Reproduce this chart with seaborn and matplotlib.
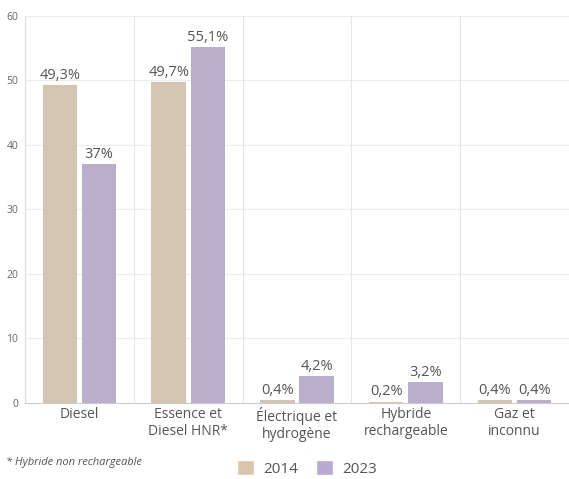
import matplotlib
matplotlib.use("Agg")
import matplotlib.pyplot as plt
from matplotlib.patches import Patch
import seaborn as sns
import pandas as pd

categories = ["Diesel", "Essence et\nDiesel HNR*", "Électrique et\nhydrogène", "Hybride\nrechargeable", "Gaz et\ninconnu"]
years = ["2014", "2023"]
values_2014 = [49.3, 49.7, 0.4, 0.2, 0.4]
values_2023 = [37.0, 55.1, 4.2, 3.2, 0.4]
labels_2014 = ["49,3%", "49,7%", "0,4%", "0,2%", "0,4%"]
labels_2023 = ["37%", "55,1%", "4,2%", "3,2%", "0,4%"]
colors = ["#d8c6ac", "#b8aad0"]

rows = []
for c, v in zip(categories, values_2014):
    rows.append({"cat": c, "year": "2014", "val": v})
for c, v in zip(categories, values_2023):
    rows.append({"cat": c, "year": "2023", "val": v})
df = pd.DataFrame(rows)

sns.set_style("white")
plt.rcParams['font.family'] = ['Open Sans', 'DejaVu Sans']

fig = plt.figure(figsize=(5.69, 4.79), dpi=100)
ax = fig.add_axes([0.044, 0.159, 0.956, 0.808])

sns.barplot(data=df, x="cat", y="val", hue="year", palette=colors, order=categories,
            hue_order=years, width=0.72, gap=0.12, ax=ax, legend=False, zorder=3,
            linewidth=0, edgecolor="none")

ax.set_xlim(-0.5, 4.5)
ax.set_ylim(0, 60)
ax.set_yticks(range(0, 61, 10))
ax.set_ylabel("")
ax.set_xlabel("")
for y in range(10, 61, 10):
    ax.axhline(y, color="#ececec", lw=0.8, zorder=0)
for x in [0.5, 1.5, 2.5, 3.5]:
    ax.axvline(x, color="#e6e6e6", lw=0.8, zorder=0)
for s in ["top", "right"]:
    ax.spines[s].set_visible(False)
ax.spines["left"].set_color("#dddddd")
ax.spines["bottom"].set_color("#cccccc")
ax.spines["left"].set_linewidth(0.8)
ax.spines["bottom"].set_linewidth(0.8)
ax.tick_params(axis="y", labelsize=7.5, labelcolor="#666666", length=3, color="#cccccc", pad=2)
ax.tick_params(axis="x", labelsize=10, labelcolor="#555555", length=0, pad=3)

for cont, labs in zip(ax.containers, [labels_2014, labels_2023]):
    ax.bar_label(cont, labels=labs, padding=1.5, fontsize=10.5, color="#555555")

fig.text(0.01, 0.03, "* Hybride non rechargeable", fontsize=8, style="italic", color="#555555")
handles = [Patch(facecolor=colors[0]), Patch(facecolor=colors[1])]
fig.legend(handles, years, loc="center", bbox_to_anchor=(0.54, 0.022), ncol=2, frameon=False,
           fontsize=11, labelcolor="#555555", handlelength=1.1, handleheight=1.1,
           handletextpad=0.6, columnspacing=1.2)

fig.savefig("out.png", dpi=100)
